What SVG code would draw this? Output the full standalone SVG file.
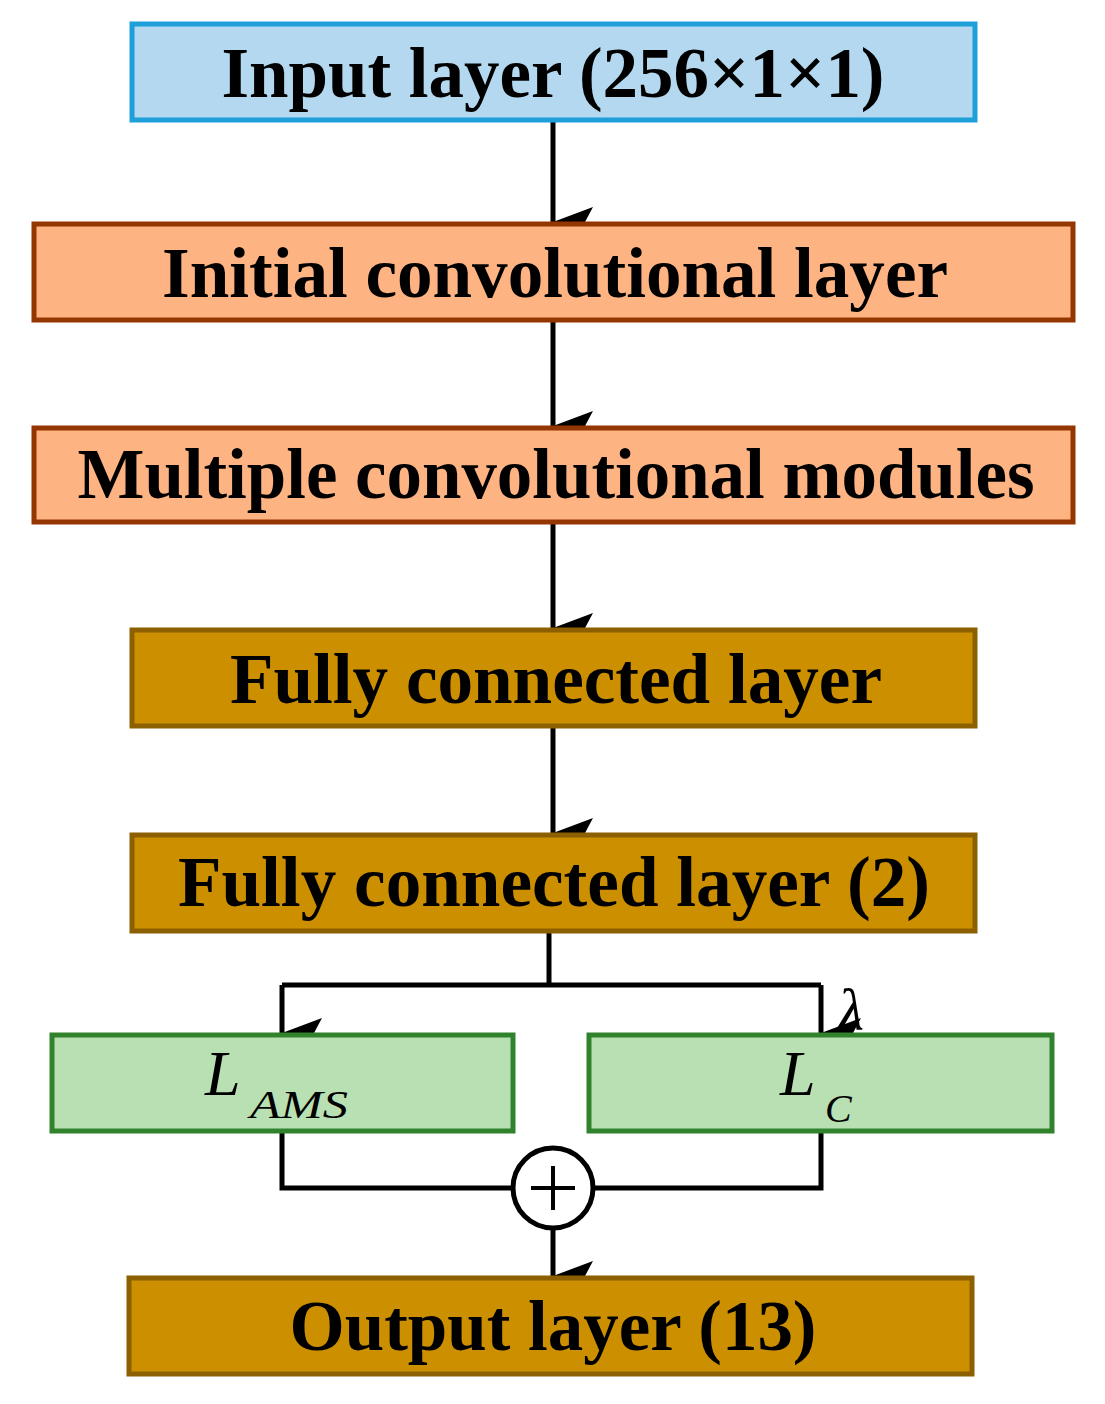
<svg xmlns="http://www.w3.org/2000/svg" width="1105" height="1404" viewBox="0 0 1105 1404">
<style>
.t{font-family:"Liberation Serif",serif;font-weight:bold;font-size:72px;fill:#000}
.m{font-family:"Liberation Serif",serif;font-style:italic;fill:#000}
.c{stroke:#000;stroke-width:5;fill:none}
.b{stroke-width:5}
</style>
<defs>
<marker id="a" markerUnits="userSpaceOnUse" markerWidth="30" markerHeight="40" refX="15" refY="40" orient="auto-start-reverse" viewBox="0 0 30 40">
<path d="M0,0 L15,8 L30,0 L15,40 Z" fill="#000" transform="rotate(0)"/>
</marker>
</defs>
<g id="connectors">
<path class="c" d="M553,120 V222" marker-end="url(#a)"/>
<path class="c" d="M553,320 V426" marker-end="url(#a)"/>
<path class="c" d="M553,522 V628" marker-end="url(#a)"/>
<path class="c" d="M553,726 V833" marker-end="url(#a)"/>
<path class="c" d="M549,931 V985"/>
<path class="c" d="M282,985 H821"/>
<path class="c" d="M282,985 V1033" marker-end="url(#a)"/>
<path class="c" d="M821,985 V1033" marker-end="url(#a)"/>
<path class="c" d="M282,1131 V1188 H513"/>
<path class="c" d="M821,1131 V1188 H593"/>
<path class="c" d="M553,1228 V1276" marker-end="url(#a)"/>
</g>
<g id="input"><rect class="b" x="132" y="24" width="843" height="96" fill="#b3d8ef" stroke="#1f9fd9"/><text class="t" x="553" y="97" text-anchor="middle" textLength="663" lengthAdjust="spacingAndGlyphs">Input layer (256×1×1)</text></g>
<g id="initial"><rect class="b" x="34" y="224" width="1039" height="96" fill="#fdb382" stroke="#943600"/><text class="t" x="555" y="297" text-anchor="middle" textLength="786" lengthAdjust="spacingAndGlyphs">Initial convolutional layer</text></g>
<g id="multiple"><rect class="b" x="34" y="428" width="1039" height="94" fill="#fdb382" stroke="#943600"/><text class="t" x="556" y="498" text-anchor="middle" textLength="957" lengthAdjust="spacingAndGlyphs">Multiple convolutional modules</text></g>
<g id="fc1"><rect class="b" x="132" y="630" width="843" height="96" fill="#cc8f00" stroke="#8c6000"/><text class="t" x="556" y="703" text-anchor="middle" textLength="652" lengthAdjust="spacingAndGlyphs">Fully connected layer</text></g>
<g id="fc2"><rect class="b" x="132" y="835" width="843" height="96" fill="#cc8f00" stroke="#8c6000"/><text class="t" x="554" y="906" text-anchor="middle" textLength="752" lengthAdjust="spacingAndGlyphs">Fully connected layer (2)</text></g>
<g id="lams"><rect class="b" x="52" y="1035" width="461" height="96" fill="#b9e0b3" stroke="#31822c"/><text class="m" x="205" y="1095" font-size="64">L</text><text class="m" x="250" y="1118" font-size="40" textLength="98" lengthAdjust="spacingAndGlyphs">AMS</text></g>
<g id="lc"><rect class="b" x="589" y="1035" width="463" height="96" fill="#b9e0b3" stroke="#31822c"/><text class="m" x="780" y="1095" font-size="64">L</text><text class="m" x="825" y="1122" font-size="40">C</text></g>
<g id="lambda"><text class="m" x="838" y="1030" font-size="60">λ</text></g>
<g id="sum"><circle cx="553" cy="1188" r="40" fill="#fff" stroke="#000" stroke-width="5"/><path d="M531,1188 H575 M553,1166 V1210" stroke="#000" stroke-width="4"/></g>
<g id="output"><rect class="b" x="129" y="1278" width="843" height="96" fill="#cc8f00" stroke="#8c6000"/><text class="t" x="553" y="1350" text-anchor="middle" textLength="527" lengthAdjust="spacingAndGlyphs">Output layer (13)</text></g>
</svg>
